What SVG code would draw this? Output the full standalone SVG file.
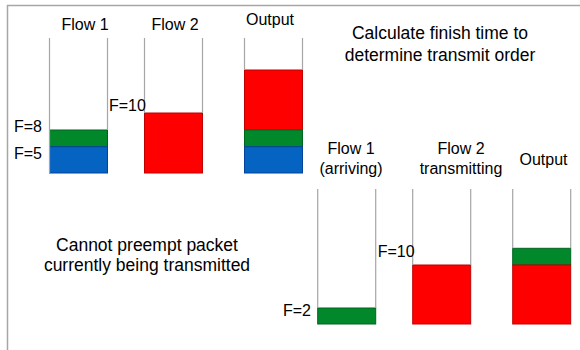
<svg xmlns="http://www.w3.org/2000/svg" width="580" height="350" viewBox="0 0 580 350">
  <style>
    text { font-family: "Liberation Sans", Arial, sans-serif; fill: #000; }
    .lbl { font-size: 16px; text-anchor: middle; }
    .f { font-size: 16px; }
    .note { font-size: 17.5px; text-anchor: middle; }
    .wall { stroke: #a6a6a6; stroke-width: 1.2; fill: none; }
    .frame { stroke: #a6a6a6; stroke-width: 1.5; fill: none; }
    .red { fill: #ff0000; stroke: #c00000; stroke-width: 1; }
    .green { fill: #00882b; stroke: #006420; stroke-width: 1; }
    .blue { fill: #0563c1; stroke: #03449a; stroke-width: 1; }
  </style>

  <!-- outer frame (top and left edges) -->
  <polyline class="frame" points="7.5,350 7.5,5.5 580,5.5"/>

  <!-- top row: finish-time ordering -->
  <g id="top-flow1">
    <text class="lbl" x="85" y="30">Flow 1</text>
    <rect class="green" x="49.5" y="130" width="58" height="16.7"/>
    <rect class="blue" x="49.5" y="146.7" width="58" height="26.3"/>
    <line class="wall" x1="49.5" y1="38" x2="49.5" y2="173"/>
    <line class="wall" x1="107.5" y1="38" x2="107.5" y2="130"/>
    <text class="f" x="14" y="132">F=8</text>
    <text class="f" x="14" y="159">F=5</text>
  </g>

  <g id="top-flow2">
    <text class="lbl" x="175" y="30">Flow 2</text>
    <rect class="red" x="144.5" y="113" width="58" height="60"/>
    <line class="wall" x1="144.5" y1="38" x2="144.5" y2="113"/>
    <line class="wall" x1="202.5" y1="38" x2="202.5" y2="113"/>
    <text class="f" x="109" y="111">F=10</text>
  </g>

  <g id="top-output">
    <text class="lbl" x="270" y="25">Output</text>
    <rect class="red" x="244.5" y="70" width="58" height="60"/>
    <rect class="green" x="244.5" y="130" width="58" height="16.7"/>
    <rect class="blue" x="244.5" y="146.7" width="58" height="26.3"/>
    <line class="wall" x1="244.5" y1="38" x2="244.5" y2="70"/>
    <line class="wall" x1="302.5" y1="38" x2="302.5" y2="70"/>
  </g>

  <g id="top-note">
    <text class="note" x="440" y="39">Calculate finish time to</text>
    <text class="note" x="440" y="61">determine transmit order</text>
  </g>

  <!-- bottom row: no preemption -->
  <g id="bottom-note">
    <text class="note" x="147" y="250.5">Cannot preempt packet</text>
    <text class="note" x="147" y="270.5">currently being transmitted</text>
  </g>

  <g id="bottom-flow1">
    <text class="lbl" x="351" y="153.5">Flow 1</text>
    <text class="lbl" x="351" y="173.5">(arriving)</text>
    <rect class="green" x="317.7" y="308" width="58" height="16"/>
    <line class="wall" x1="317.7" y1="189" x2="317.7" y2="308"/>
    <line class="wall" x1="375.7" y1="189" x2="375.7" y2="308"/>
    <text class="f" x="283" y="315.7">F=2</text>
  </g>

  <g id="bottom-flow2">
    <text class="lbl" x="461" y="153.5">Flow 2</text>
    <text class="lbl" x="461" y="173.5">transmitting</text>
    <rect class="red" x="412.7" y="265" width="58" height="59"/>
    <line class="wall" x1="412.7" y1="189" x2="412.7" y2="265"/>
    <line class="wall" x1="470.7" y1="189" x2="470.7" y2="265"/>
    <text class="f" x="377.7" y="256.7">F=10</text>
  </g>

  <g id="bottom-output">
    <text class="lbl" x="543.5" y="165">Output</text>
    <rect class="green" x="512.7" y="248.3" width="58" height="16.7"/>
    <rect class="red" x="512.7" y="265" width="58" height="59"/>
    <line class="wall" x1="512.7" y1="189" x2="512.7" y2="248.3"/>
    <line class="wall" x1="570.7" y1="189" x2="570.7" y2="248.3"/>
  </g>
</svg>
